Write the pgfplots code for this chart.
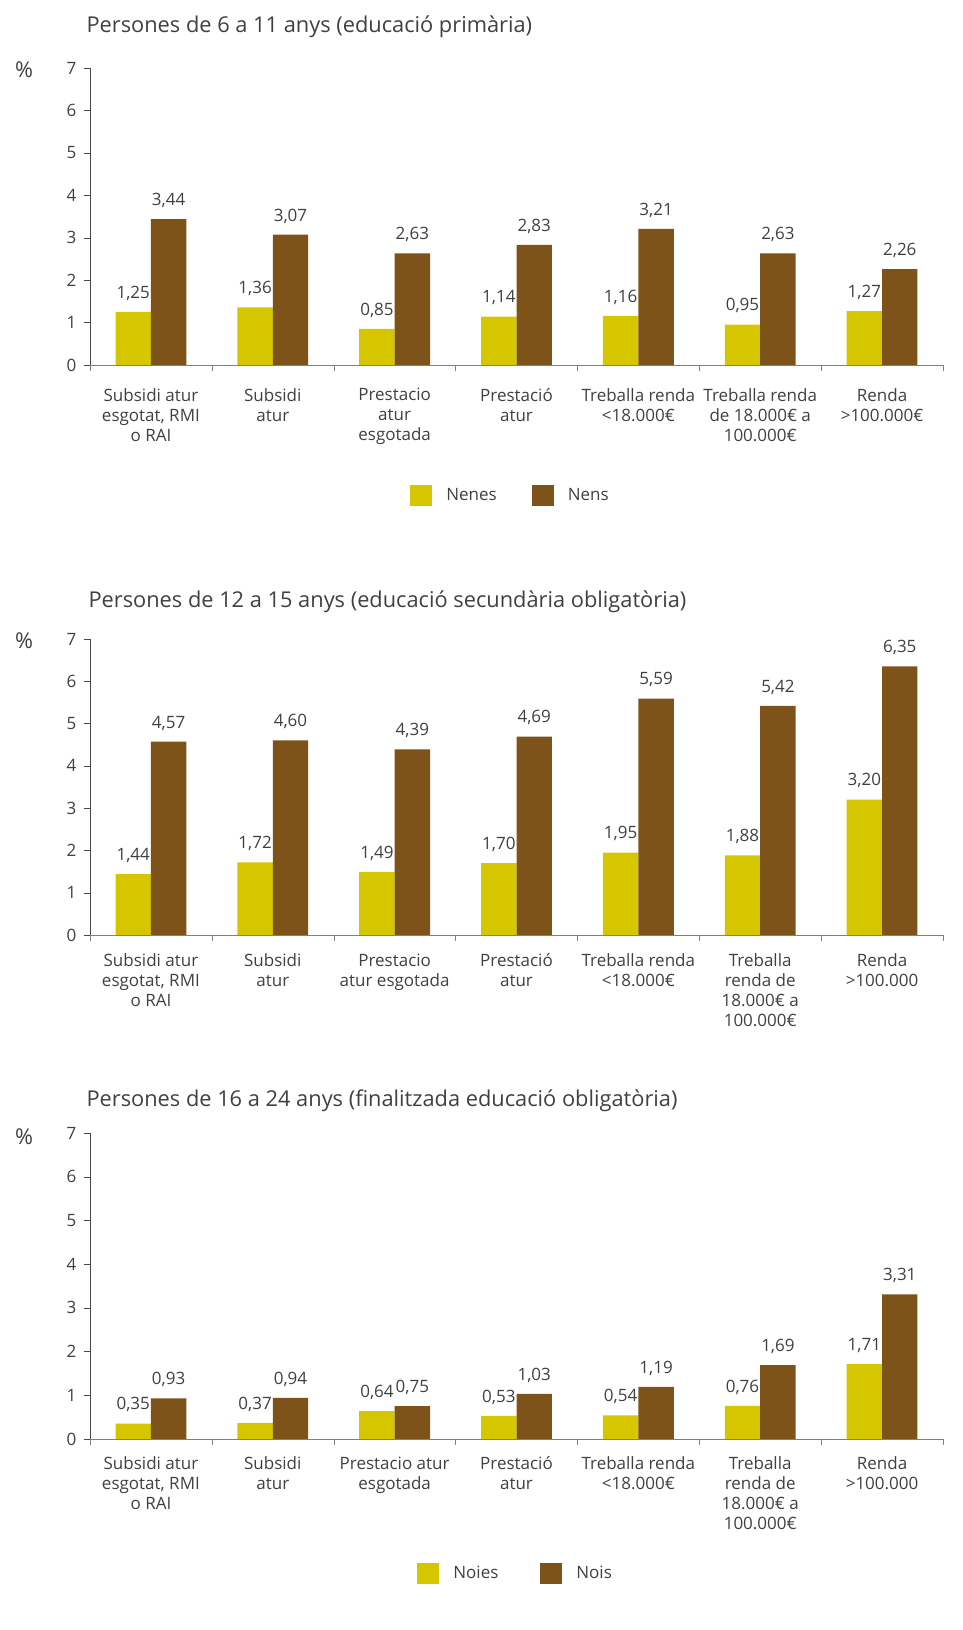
\documentclass[border=0pt]{standalone}
\usepackage{pgfplots}
\pgfplotsset{compat=1.18}
\usepackage{fontspec}
\setmainfont{Open Sans}
\definecolor{yel}{RGB}{214,198,0}
\definecolor{brn}{RGB}{125,83,26}
\definecolor{txt}{RGB}{64,64,64}
\newcommand{\lab}{\fontsize{17}{20}\selectfont}
\newcommand{\ttl}{\fontsize{21.8}{26}\selectfont}
\pgfplotsset{
  panel/.style={
    scale only axis, width=853pt,
    xmin=-0.5, xmax=6.5, ymin=0, ymax=7,
    axis lines=left, axis line style={-},
    x axis line style={draw=black!50},
    y axis line style={draw=black!72},
    ytick={0,...,7},
    xtick={-0.5,0.5,...,6.5}, xticklabels={},
    tick align=outside, major tick length=6pt,
    xtick style={draw=black!50},
    ytick style={draw=black!72},
    yticklabel style={xshift=-4pt},
    extra x ticks={0,1,2,3,4,5,6},
    ybar, bar width=35.4pt,
    tick label style={font=\lab, color=txt},
    /pgf/number format/assume math mode=true,
    nodes near coords={\pgfmathprintnumber[fixed,fixed zerofill,precision=2,use comma]{\pgfplotspointmeta}},
    every node near coord/.append style={font=\lab, color=txt, yshift=8pt},
    clip=false,
  },
  leg/.style={legend image code/.code={\fill[##1] (0pt,-10.5pt) rectangle (22pt,10.5pt);}},
}
\begin{document}
\begin{tikzpicture}
\useasboundingbox (0,0) rectangle (963pt,1630pt);
% ---------- Panel 1
\begin{axis}[panel, at={(90pt,1265pt)}, anchor=south west, height=297pt,
  extra x tick style={major tick length=0pt, tick label style={align=center, anchor=north, yshift=-20pt}},
  extra x tick labels={{Subsidi atur\\esgotat, RMI\\o RAI},{Subsidi\\atur},{Prestacio\\atur\\esgotada},{Prestació\\atur},{Treballa renda\\<18.000€},{Treballa renda\\de 18.000€ a\\100.000€},{Renda\\>100.000€}},
  legend style={at={(0.493,-0.438)}, anchor=center, draw=none, fill=none, legend columns=2, font=\lab, text=txt,
    /tikz/every odd column/.append style={column sep=12pt},
    /tikz/every even column/.append style={column sep=33pt}},
]
\addlegendimage{leg, fill=yel, draw=none}
\addlegendentry{Nenes}
\addlegendimage{leg, fill=brn, draw=none}
\addlegendentry{Nens}
\addplot[forget plot, draw=none, fill=yel, bar shift=-17.7pt] coordinates {(0,1.25) (1,1.36) (2,0.85) (3,1.14) (4,1.16) (5,0.95) (6,1.27)};
\addplot[forget plot, draw=none, fill=brn, bar shift=17.7pt] coordinates {(0,3.44) (1,3.07) (2,2.63) (3,2.83) (4,3.21) (5,2.63) (6,2.26)};
\node[font=\ttl, color=txt, anchor=west] at (rel axis cs:0,1) [xshift=-7pt, yshift=41pt] {Persones de 6 a 11 anys (educació primària)};
\node[font=\ttl, color=txt] at (rel axis cs:0,1) [xshift=-66pt, yshift=-2pt] {\%};
\end{axis}
% ---------- Panel 2
\begin{axis}[panel, at={(90pt,695pt)}, anchor=south west, height=296pt,
  extra x tick style={major tick length=0pt, tick label style={align=center, anchor=north, yshift=-15pt}},
  extra x tick labels={{Subsidi atur\\esgotat, RMI\\o RAI},{Subsidi\\atur},{Prestacio\\atur esgotada},{Prestació\\atur},{Treballa renda\\<18.000€},{Treballa\\renda de\\18.000€ a\\100.000€},{Renda\\>100.000}},
]
\addplot[forget plot, draw=none, fill=yel, bar shift=-17.7pt] coordinates {(0,1.44) (1,1.72) (2,1.49) (3,1.70) (4,1.95) (5,1.88) (6,3.20)};
\addplot[forget plot, draw=none, fill=brn, bar shift=17.7pt] coordinates {(0,4.57) (1,4.60) (2,4.39) (3,4.69) (4,5.59) (5,5.42) (6,6.35)};
\node[font=\ttl, color=txt, anchor=west] at (rel axis cs:0,1) [xshift=-5pt, yshift=37pt] {Persones de 12 a 15 anys (educació secundària obligatòria)};
\node[font=\ttl, color=txt] at (rel axis cs:0,1) [xshift=-66pt, yshift=-2pt] {\%};
\end{axis}
% ---------- Panel 3
\begin{axis}[panel, at={(90pt,191pt)}, anchor=south west, height=306pt,
  extra x tick style={major tick length=0pt, tick label style={align=center, anchor=north, yshift=-14pt}},
  extra x tick labels={{Subsidi atur\\esgotat, RMI\\o RAI},{Subsidi\\atur},{Prestacio atur\\esgotada},{Prestació\\atur},{Treballa renda\\<18.000€},{Treballa\\renda de\\18.000€ a\\100.000€},{Renda\\>100.000}},
  legend style={at={(0.499,-0.438)}, anchor=center, draw=none, fill=none, legend columns=2, font=\lab, text=txt,
    /tikz/every odd column/.append style={column sep=12pt},
    /tikz/every even column/.append style={column sep=40pt}},
]
\addlegendimage{leg, fill=yel, draw=none}
\addlegendentry{Noies}
\addlegendimage{leg, fill=brn, draw=none}
\addlegendentry{Nois}
\addplot[forget plot, draw=none, fill=yel, bar shift=-17.7pt] coordinates {(0,0.35) (1,0.37) (2,0.64) (3,0.53) (4,0.54) (5,0.76) (6,1.71)};
\addplot[forget plot, draw=none, fill=brn, bar shift=17.7pt] coordinates {(0,0.93) (1,0.94) (2,0.75) (3,1.03) (4,1.19) (5,1.69) (6,3.31)};
\node[font=\ttl, color=txt, anchor=west] at (rel axis cs:0,1) [xshift=-7pt, yshift=32pt] {Persones de 16 a 24 anys (finalitzada educació obligatòria)};
\node[font=\ttl, color=txt] at (rel axis cs:0,1) [xshift=-66pt, yshift=-4pt] {\%};
\end{axis}
\end{tikzpicture}
\end{document}
